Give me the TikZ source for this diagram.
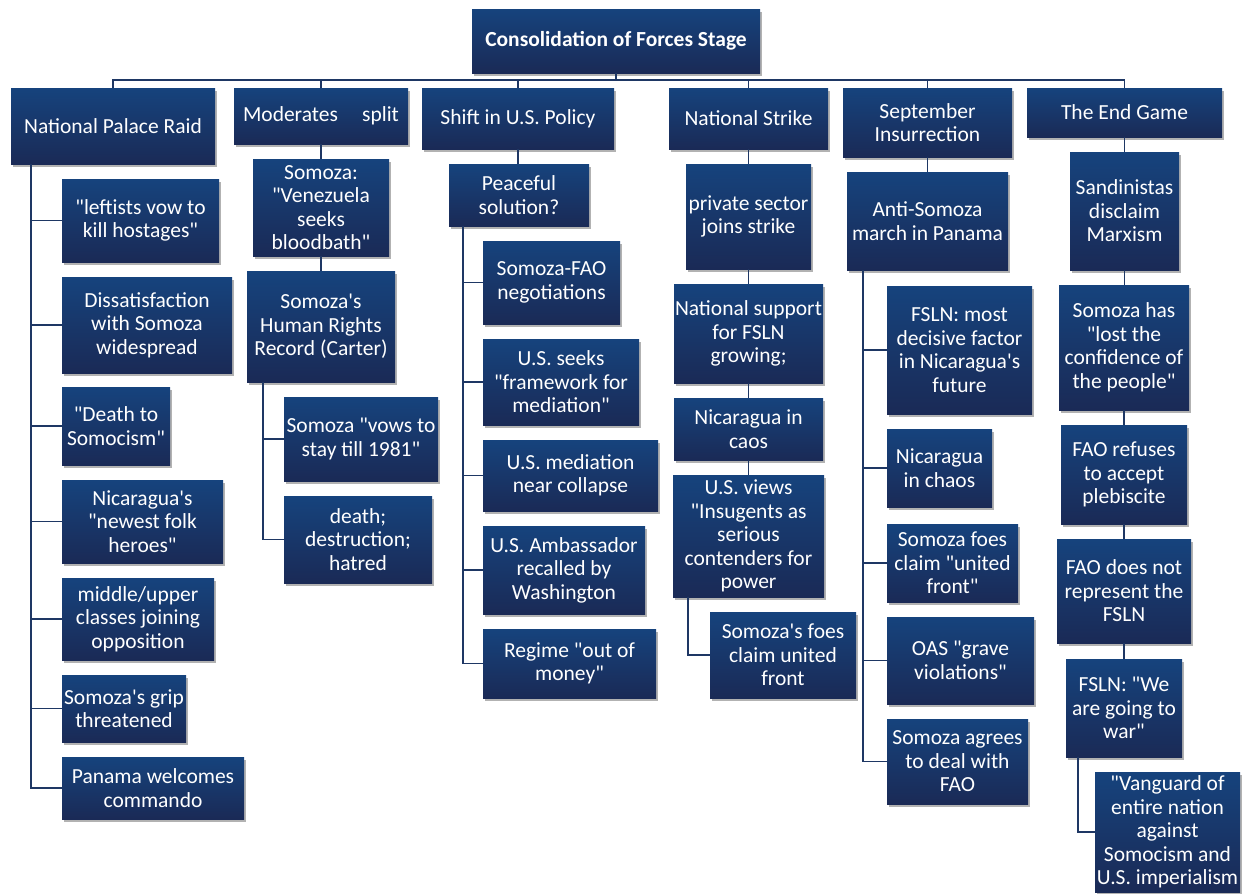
\documentclass[tikz,border=0pt]{standalone}
\usepackage{fontspec}
\setmainfont{Carlito}[Ligatures=TeXOff]
\usepackage{tikz}
\usetikzlibrary{shadows}

\definecolor{cardtop}{RGB}{22,67,125}
\definecolor{cardbot}{RGB}{26,42,86}
\definecolor{linkc}{RGB}{30,55,100}

\begin{document}
\begin{tikzpicture}[x=1pt,y=-1pt,
    card/.style={rectangle,top color=cardtop,bottom color=cardbot,draw=none,
      text=white,align=center,inner sep=1pt,font=\fontsize{21.5}{23.5}\selectfont,
      drop shadow={shadow xshift=2pt,shadow yshift=-3pt,fill=black,opacity=0.3}},
    link/.style={draw=linkc,line width=1.6pt}]
    \useasboundingbox (0,0) rectangle (1242,894);
    % root
    \node (root) at (616,41) [card,minimum width=288,minimum height=64,font=\fontsize{21.5}{23.5}\selectfont\bfseries]{Consolidation of Forces Stage};
    % stages
    \node (npr) at (113,126) [card,minimum width=204,minimum height=76]{National Palace Raid};
    \node (mod) at (321,116) [card,minimum width=174,minimum height=56]{Moderates\hspace{0.9em} split};
    \node (shift) at (518,118.5) [card,minimum width=192,minimum height=61]{Shift in U.S. Policy};
    \node (strike) at (748.5,118.5) [card,minimum width=159,minimum height=61]{National Strike};
    \node (sept) at (927.5,122.5) [card,minimum width=169,minimum height=69]{September\\Insurrection};
    \node (endg) at (1124.5,112.5) [card,minimum width=195,minimum height=49]{The End Game};
    % national palace raid
    \node (c1a) at (140.5,220.5) [card,minimum width=157,minimum height=83]{"leftists vow to\\kill hostages"};
    \node (c1b) at (147,325) [card,minimum width=170,minimum height=96]{Dissatisfaction\\with Somoza\\widespread};
    \node (c1c) at (116,426) [card,minimum width=108,minimum height=78]{"Death to\\Somocism"};
    \node (c1d) at (142.5,521.5) [card,minimum width=161,minimum height=83]{Nicaragua's\\"newest folk\\heroes"};
    \node (c1e) at (138,619) [card,minimum width=152,minimum height=82]{middle/upper\\classes joining\\opposition};
    \node (c1f) at (124,708.5) [card,minimum width=124,minimum height=67]{Somoza's grip\\threatened};
    \node (c1g) at (153,788) [card,minimum width=182,minimum height=62]{Panama welcomes\\commando};
    % moderates split
    \node (ven) at (321,207.5) [card,minimum width=136,minimum height=97]{Somoza:\\"Venezuela\\seeks\\bloodbath"};
    \node (hrr) at (321,326.5) [card,minimum width=148,minimum height=111]{Somoza's\\Human Rights\\Record (Carter)};
    \node (c2a) at (361,439) [card,minimum width=154,minimum height=84]{Somoza "vows to\\stay till 1981"};
    \node (c2b) at (358,539.5) [card,minimum width=148,minimum height=87]{death;\\destruction;\\hatred};
    % shift in u.s. policy
    \node (peace) at (519,195) [card,minimum width=140,minimum height=62]{Peaceful\\solution?};
    \node (c3a) at (551.5,282.5) [card,minimum width=137,minimum height=83]{Somoza-FAO\\negotiations};
    \node (c3b) at (561,382) [card,minimum width=156,minimum height=86]{U.S. seeks\\"framework for\\mediation"};
    \node (c3c) at (570.5,475.5) [card,minimum width=175,minimum height=71]{U.S. mediation\\near collapse};
    \node (c3d) at (564,570) [card,minimum width=162,minimum height=88]{U.S. Ambassador\\recalled by\\Washington};
    \node (c3e) at (569.5,663.5) [card,minimum width=173,minimum height=69]{Regime "out of\\money"};
    % national strike
    \node (psec) at (748.5,216.5) [card,minimum width=125,minimum height=105]{private sector\\joins strike};
    \node (nsup) at (748.5,333.5) [card,minimum width=149,minimum height=99]{National support\\for FSLN\\growing;};
    \node (caos) at (748.5,429) [card,minimum width=149,minimum height=62]{Nicaragua in\\caos};
    \node (usv) at (748.5,536) [card,minimum width=151,minimum height=122]{U.S. views\\"Insugents as\\serious\\contenders for\\power};
    \node (c4a) at (783,655) [card,minimum width=146,minimum height=86]{Somoza's foes\\claim united\\front};
    % september insurrection
    \node (anti) at (927.5,221) [card,minimum width=161,minimum height=98]{Anti-Somoza\\march in Panama};
    \node (c5a) at (959.5,350) [card,minimum width=145,minimum height=128]{FSLN: most\\decisive factor\\in Nicaragua's\\future};
    \node (c5b) at (939.5,468) [card,minimum width=105,minimum height=78]{Nicaragua\\in chaos};
    \node (c5c) at (952.5,563) [card,minimum width=131,minimum height=78]{Somoza foes\\claim "united\\front"};
    \node (c5d) at (960.5,660.5) [card,minimum width=147,minimum height=87]{OAS "grave\\violations"};
    \node (c5e) at (957.5,761.5) [card,minimum width=141,minimum height=85]{Somoza agrees\\to deal with\\FAO};
    % end game
    \node (sand) at (1124.5,211) [card,minimum width=109,minimum height=118]{Sandinistas\\disclaim\\Marxism};
    \node (lost) at (1124,347.5) [card,minimum width=130,minimum height=125]{Somoza has\\"lost the\\confidence of\\the people"};
    \node (pleb) at (1124,474.5) [card,minimum width=126,minimum height=99]{FAO refuses\\to accept\\plebiscite};
    \node (frep) at (1124,591) [card,minimum width=134,minimum height=104]{FAO does not\\represent the\\FSLN};
    \node (war) at (1124,708) [card,minimum width=116,minimum height=98]{FSLN: "We\\are going to\\war"};
    \node (vang) at (1167.5,832) [card,minimum width=145,minimum height=120]{"Vanguard of\\entire nation\\against\\Somocism and\\U.S. imperialism};
    % edges from root
    \draw[link] (root.south) -- ++(0,7) -| (npr.north);
    \draw[link] (root.south) -- ++(0,7) -| (mod.north);
    \draw[link] (root.south) -- ++(0,7) -| (shift.north);
    \draw[link] (root.south) -- ++(0,7) -| (strike.north);
    \draw[link] (root.south) -- ++(0,7) -| (sept.north);
    \draw[link] (root.south) -- ++(0,7) -| (endg.north);
    % chains
    \draw[link] (mod.south) -- (mod.south |- ven.north);
    \draw[link] (ven.south) -- (ven.south |- hrr.north);
    \draw[link] (shift.south) -- (shift.south |- peace.north);
    \draw[link] (strike.south) -- (strike.south |- psec.north);
    \draw[link] (psec.south) -- (psec.south |- nsup.north);
    \draw[link] (nsup.south) -- (nsup.south |- caos.north);
    \draw[link] (caos.south) -- (caos.south |- usv.north);
    \draw[link] (sept.south) -- (sept.south |- anti.north);
    \draw[link] (endg.south) -- (endg.south |- sand.north);
    \draw[link] (sand.south) -- (sand.south |- lost.north);
    \draw[link] (lost.south) -- (lost.south |- pleb.north);
    \draw[link] (pleb.south) -- (pleb.south |- frep.north);
    \draw[link] (frep.south) -- (frep.south |- war.north);
    % side branches
    \draw[link] ([xshift=20pt]npr.south west) |- (c1a.west);
    \draw[link] ([xshift=20pt]npr.south west) |- (c1b.west);
    \draw[link] ([xshift=20pt]npr.south west) |- (c1c.west);
    \draw[link] ([xshift=20pt]npr.south west) |- (c1d.west);
    \draw[link] ([xshift=20pt]npr.south west) |- (c1e.west);
    \draw[link] ([xshift=20pt]npr.south west) |- (c1f.west);
    \draw[link] ([xshift=20pt]npr.south west) |- (c1g.west);
    \draw[link] ([xshift=16pt]hrr.south west) |- (c2a.west);
    \draw[link] ([xshift=16pt]hrr.south west) |- (c2b.west);
    \draw[link] ([xshift=14pt]peace.south west) |- (c3a.west);
    \draw[link] ([xshift=14pt]peace.south west) |- (c3b.west);
    \draw[link] ([xshift=14pt]peace.south west) |- (c3c.west);
    \draw[link] ([xshift=14pt]peace.south west) |- (c3d.west);
    \draw[link] ([xshift=14pt]peace.south west) |- (c3e.west);
    \draw[link] ([xshift=15pt]usv.south west) |- (c4a.west);
    \draw[link] ([xshift=16pt]anti.south west) |- (c5a.west);
    \draw[link] ([xshift=16pt]anti.south west) |- (c5b.west);
    \draw[link] ([xshift=16pt]anti.south west) |- (c5c.west);
    \draw[link] ([xshift=16pt]anti.south west) |- (c5d.west);
    \draw[link] ([xshift=16pt]anti.south west) |- (c5e.west);
    \draw[link] ([xshift=12pt]war.south west) |- (vang.west);
\end{tikzpicture}
\end{document}
